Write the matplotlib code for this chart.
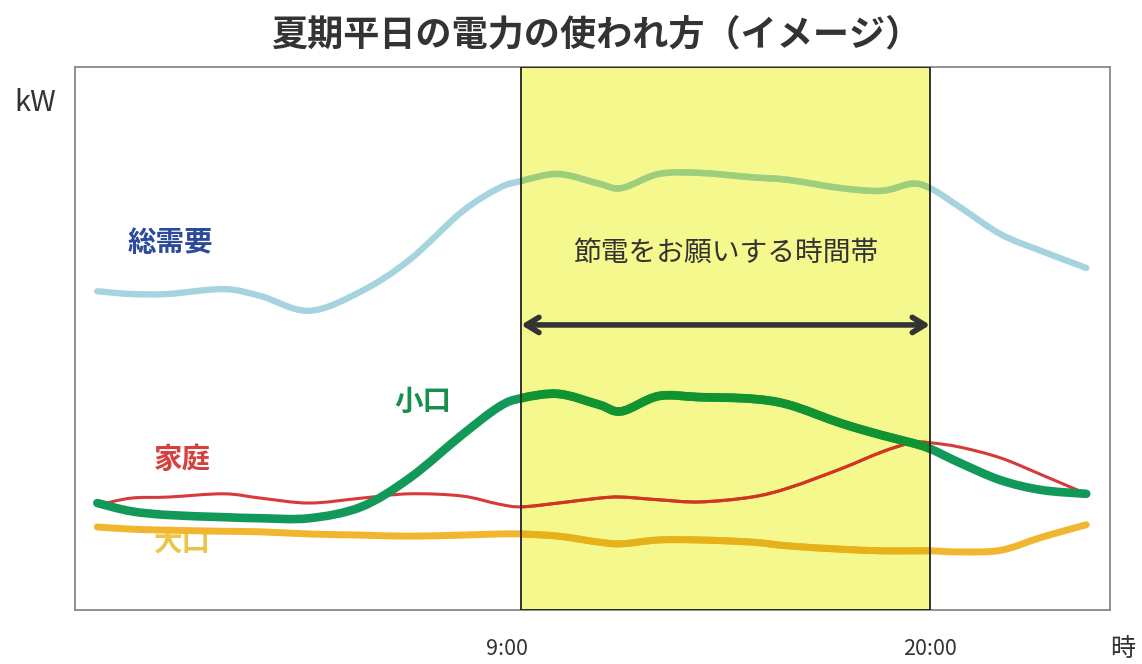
"""
夏期平日の電力の使われ方（イメージ）
Re-drawn line chart of summer weekday load curves by customer type.
"""

import numpy as np
import matplotlib
matplotlib.use('Agg')
import matplotlib.pyplot as plt
import matplotlib.transforms as mtransforms
from matplotlib.colors import to_rgb
from matplotlib.patches import PathPatch, Rectangle
from matplotlib.path import Path

plt.rcParams['font.family'] = ['Noto Sans CJK JP', 'DejaVu Sans']

# ── data (hours, relative kW) ────────────────────────────────────────────────
hours = [-2.4, -1.5, -0.5, 1.0, 2.0, 3.3, 4.7, 6.0, 7.4, 8.4, 9.0, 10.0, 11.1,
         11.7, 12.7, 13.8, 15.2, 16.2, 17.6, 18.7, 19.5, 20.0, 20.8, 21.9, 23.0, 24.2]

total_demand = [58.7, 58.2, 58.2, 59.1, 57.8, 55.1, 58.7, 64.5, 73.3, 77.7, 79.0, 80.3, 78.5,
                77.7, 80.3, 80.5, 79.7, 79.2, 77.7, 77.2, 78.5, 77.7, 74.2, 69.2, 66.1, 63.0]
small_lot = [19.7, 18.2, 17.5, 17.1, 16.9, 16.9, 19.0, 24.3, 32.2, 37.4, 39.0, 39.8, 37.8,
             36.6, 39.4, 39.2, 38.9, 37.8, 34.4, 32.2, 30.8, 29.7, 27.1, 23.9, 22.1, 21.4]
household = [19.3, 20.6, 20.8, 21.4, 20.6, 19.7, 20.6, 21.4, 21.0, 19.5, 19.0, 19.7, 20.6,
             20.8, 20.3, 19.9, 20.8, 22.5, 26.0, 29.1, 30.8, 30.8, 30.0, 28.0, 24.9, 21.4]
large_lot = [15.3, 14.9, 14.7, 14.5, 14.4, 14.0, 13.8, 13.6, 13.8, 14.0, 14.0, 13.6, 12.5,
             12.2, 12.9, 12.9, 12.5, 11.8, 11.2, 10.9, 10.9, 10.9, 10.7, 11.0, 13.4, 15.7]

peak_start, peak_end = 9, 20
tick_hours = [9, 20]
tick_labels = ['9:00', '20:00']

series = [
    ('総需要', total_demand, '#a6d4de', 4.6, '#2b4a9c', (-0.45, 67.6)),
    ('大口', large_lot, '#f0b62e', 5.0, '#ecc44a', (-0.12, 12.4)),
    ('家庭', household, '#d8393b', 2.2, '#d8403e', (-0.12, 27.6)),
    ('小口', small_lot, '#129858', 6.2, '#17904e', (6.35, 38.3)),
]

BAND = '#f5f88c'


# ── helpers ──────────────────────────────────────────────────────────────────

def smooth_path(xs, ys):
    """Catmull-Rom through the points, as cubic Bezier segments."""
    pts = np.column_stack([xs, ys]).astype(float)
    n = len(pts)
    verts = [pts[0]]
    codes = [Path.MOVETO]
    for i in range(n - 1):
        p0 = pts[i - 1] if i > 0 else pts[i]
        p1, p2 = pts[i], pts[i + 1]
        p3 = pts[i + 2] if i + 2 < n else pts[i + 1]
        verts += [p1 + (p2 - p0) / 6, p2 - (p3 - p1) / 6, p2]
        codes += [Path.CURVE4] * 3
    return Path(verts, codes)


def multiply(c1, c2):
    return tuple(a * b for a, b in zip(to_rgb(c1), to_rgb(c2)))


# ── plotting ─────────────────────────────────────────────────────────────────
fig = plt.figure(figsize=(11.42, 6.64), dpi=100)
ax = fig.add_axes([0.0657, 0.0813, 0.9063, 0.8178])
ax.set_xlim(-3.0, 24.84)
ax.set_ylim(0, 100)

ax.axvspan(peak_start, peak_end, facecolor=BAND, edgecolor='none', zorder=1)

band_clip = Rectangle((peak_start, 0), peak_end - peak_start, 100, transform=ax.transData)

for name, vals, color, lw, txt_color, (tx, ty) in series:
    path = smooth_path(hours, vals)
    ax.add_patch(PathPatch(path, fill=False, edgecolor=color, linewidth=lw,
                           capstyle='round', joinstyle='round', zorder=3))
    # the part under the marker band looks overprinted
    inner = PathPatch(path, fill=False, edgecolor=multiply(color, BAND), linewidth=lw,
                      capstyle='round', joinstyle='round', zorder=3.5)
    ax.add_patch(inner)
    inner.set_clip_path(band_clip)
    ax.text(tx, ty, name, color=txt_color, fontsize=20.5, fontweight='bold',
            ha='center', va='center', zorder=2)

ax.axvspan(peak_start, peak_end, facecolor='none', edgecolor='#222222', linewidth=1.3, zorder=5)

ax.annotate('', xy=(peak_start, 52.5), xytext=(peak_end, 52.5),
            arrowprops=dict(arrowstyle='<->,head_length=0.9,head_width=0.55',
                            color='#333333', lw=4, shrinkA=0, shrinkB=0),
            zorder=6)
ax.text((peak_start + peak_end) / 2, 65.7, '節電をお願いする時間帯', fontsize=20,
        color='#333333', ha='center', va='center', zorder=6)

ax.set_xticks(tick_hours)
ax.set_xticklabels(tick_labels, fontsize=15.5, color='#333333')
ax.tick_params(axis='x', length=0, pad=20)
# the 9:00 label sits a little left of its gridline in the original
lbl = ax.get_xticklabels()[0]
lbl.set_transform(lbl.get_transform() + mtransforms.ScaledTranslation(-0.14, 0, fig.dpi_scale_trans))
ax.set_yticks([])
for sp in ax.spines.values():
    sp.set_color('#888888')
    sp.set_linewidth(1.3)

fig.text(0.031, 0.845, 'kW', fontsize=21, color='#333333', ha='center', va='center')
fig.text(0.983, 0.022, '時', fontsize=18, color='#333333', ha='center', va='center')
fig.text(0.523, 0.947, '夏期平日の電力の使われ方（イメージ）', fontsize=26, fontweight='bold',
         color='#333333', ha='center', va='center')

plt.savefig('out.png', dpi=100)
plt.close()
